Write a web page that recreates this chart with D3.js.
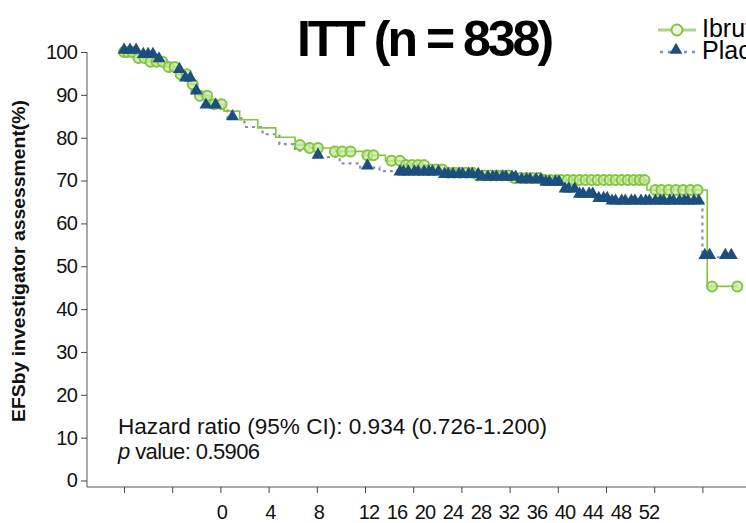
<!DOCTYPE html>
<html>
<head>
<meta charset="utf-8">
<script src="https://cdn.jsdelivr.net/npm/d3@7"></script>
<style>
body { margin: 0; background: #fff; }
svg { display: block; font-family: "Liberation Sans", Arial, sans-serif; }
</style>
</head>
<body>
<svg id="chart" width="746" height="523"></svg>
<script>
// KM steps: [month, survival %]
var ibruSteps = [[0,100],[0.9,98.6],[2.2,97.7],[3.4,96.5],[4.5,94.8],[5.3,92.5],[6.1,89.8],[7.1,87.8],
    [8.3,86.2],[9.6,84.2],[11.1,82.3],[12.6,80.1],[14.2,78.3],[15.4,77.6],[17.5,76.8],[20.0,75.9],
    [21.7,74.6],[23.3,73.6],[25.0,72.6],[26.6,71.8],[29.1,71.2],[32.0,70.6],[34.9,70.1],[43.4,67.8],[48.4,45.3]];
var ibruEnd = 50.9;
var ibruCensor = [0.0,0.3,0.7,1.2,1.7,2.2,2.7,3.2,3.7,4.2,4.7,5.2,5.7,6.3,6.9,7.5,8.1,
    14.6,15.4,16.1,17.5,18.1,18.8,20.2,20.7,22.2,22.9,23.4,23.9,24.4,24.9,25.4,25.9,26.4,
    26.9,27.4,27.9,28.4,28.9,29.4,29.9,30.4,30.9,31.4,31.9,32.4,32.9,33.4,33.9,34.4,34.9,
    35.4,35.9,36.3,36.8,37.3,37.8,38.3,38.8,39.3,39.8,40.3,40.8,41.3,41.8,42.3,42.8,43.2,
    44.1,44.6,45.2,45.8,46.4,47.0,47.6,48.8,50.9];

var placSteps = [[0,100],[1.3,99.0],[2.8,98.0],[3.8,95.5],[4.8,93.5],[5.6,90.5],[6.7,87.2],[8.6,84.5],
    [10.0,82.5],[11.5,80.8],[12.9,78.5],[14.2,77.0],[15.9,75.5],[17.9,74.0],[19.6,73.0],[21.2,72.2],
    [22.9,71.6],[26.2,71.0],[29.5,70.4],[32.9,69.8],[34.9,69.2],[36.6,67.6],[37.8,66.4],[39.1,65.4],
    [40.3,64.8],[48.0,52.1]];
var placEnd = 50.5;
var placCensor = [0,0.5,1.0,1.6,2.0,2.4,2.9,4.6,5.1,5.5,6.0,6.8,7.6,9.0,16.1,20.2,
    22.9,23.2,23.6,24.1,24.4,24.9,25.3,25.6,26.1,26.6,26.9,27.3,27.8,28.1,28.6,28.9,29.4,29.7,
    30.2,30.6,30.9,31.4,31.7,32.2,32.5,33.0,33.4,33.7,34.2,34.6,35.0,35.3,35.8,36.1,36.6,36.9,
    37.4,37.8,38.1,38.6,38.9,39.4,39.8,40.1,40.5,40.8,41.3,41.6,42.1,42.4,42.9,43.3,43.6,44.1,
    44.5,44.8,45.3,45.6,46.1,46.5,46.8,47.3,47.7,48.2,48.6,49.9,50.4];

var yTicks = [0,10,20,30,40,50,60,70,80,90,100];
var xTickMonths = [0,4,8,12,16,20,24,28,32,36,40,44,48];
var xLabelsLeft = ["0","4","8"];
var xLabelsRight = ["12","16","20","24","28","32","36","40","44","48","52"];

var green = "#86c440", navy = "#1c4f7e", dotGray = "#8593a6";

var svg = d3.select("#chart");

var x = d3.scaleLinear().domain([0, 48]).range([124, 702.4]);
var y = d3.scaleLinear().domain([0, 100]).range([480.5, 52]);

function survAt(steps, t) {
    var s = steps[0][1];
    for (var i = 0; i < steps.length; i++) { if (steps[i][0] <= t) s = steps[i][1]; }
    return s;
}

// axes
svg.append("line").attr("x1", 87).attr("x2", 87).attr("y1", 52).attr("y2", 487)
    .attr("stroke", "#555").attr("stroke-width", 1);
svg.append("line").attr("x1", 87).attr("x2", 746).attr("y1", 487).attr("y2", 487)
    .attr("stroke", "#555").attr("stroke-width", 1);

var yAxis = svg.append("g").attr("transform", "translate(87,0)")
    .call(d3.axisLeft(y).tickValues(yTicks).tickSize(6).tickPadding(4));
yAxis.select(".domain").remove();
yAxis.selectAll(".tick line").attr("stroke", "#444");
yAxis.selectAll("text").attr("font-size", 20).attr("fill", "#111")
    .attr("letter-spacing", -0.8).attr("font-family", "Liberation Sans, Arial, sans-serif");

var xAxis = svg.append("g").attr("transform", "translate(0,487)")
    .call(d3.axisBottom(x).tickValues(xTickMonths).tickSize(6).tickFormat(""));
xAxis.select(".domain").remove();
xAxis.selectAll(".tick line").attr("stroke", "#444");

var xl1 = d3.scalePoint().domain(xLabelsLeft).range([222, 319]);
var xl2 = d3.scalePoint().domain(xLabelsRight).range([369, 649]);
svg.append("g").selectAll("text").data(xLabelsLeft).enter().append("text")
    .attr("x", function(d) { return xl1(d); }).attr("y", 519)
    .attr("text-anchor", "middle").attr("font-size", 20).attr("letter-spacing", -0.8)
    .attr("fill", "#111").text(function(d) { return d; });
svg.append("g").selectAll("text").data(xLabelsRight).enter().append("text")
    .attr("x", function(d) { return xl2(d); }).attr("y", 519)
    .attr("text-anchor", "middle").attr("font-size", 20).attr("letter-spacing", -0.8)
    .attr("fill", "#111").text(function(d) { return d; });

// y title
svg.append("text")
    .attr("transform", "translate(25,261)rotate(-90)")
    .attr("text-anchor", "middle").attr("font-weight", "bold").attr("font-size", 19)
    .attr("textLength", 322).attr("lengthAdjust", "spacingAndGlyphs")
    .attr("fill", "#111")
    .text("EFSby investigator assessment(%)");

// title
svg.append("text")
    .attr("x", 424).attr("y", 56)
    .attr("text-anchor", "middle").attr("font-weight", "bold").attr("font-size", 50)
    .attr("letter-spacing", -3)
    .attr("fill", "#000")
    .text("ITT (n = 838)");

// curves
var line = d3.line()
    .x(function(d) { return x(d[0]); })
    .y(function(d) { return y(d[1]); })
    .curve(d3.curveStepAfter);

var placPts = placSteps.concat([[placEnd, placSteps[placSteps.length - 1][1]]]);
var ibruPts = ibruSteps.concat([[ibruEnd, ibruSteps[ibruSteps.length - 1][1]]]);

svg.append("path").datum(placPts).attr("d", line)
    .attr("fill", "none").attr("stroke", dotGray).attr("stroke-width", 2.2)
    .attr("stroke-dasharray", "3,4");

svg.append("path").datum(ibruPts).attr("d", line)
    .attr("fill", "none").attr("stroke", green).attr("stroke-width", 1.6);

svg.append("g").selectAll("circle").data(ibruCensor).enter().append("circle")
    .attr("cx", function(d) { return x(d); })
    .attr("cy", function(d) { return y(survAt(ibruSteps, d)); })
    .attr("r", 5)
    .attr("fill", "#c6e8a2").attr("fill-opacity", 0.75)
    .attr("stroke", green).attr("stroke-width", 2);

var tri = d3.symbol().type(d3.symbolTriangle).size(72);
svg.append("g").selectAll("path").data(placCensor).enter().append("path")
    .attr("d", tri)
    .attr("transform", function(d) { return "translate(" + x(d) + "," + (y(survAt(placSteps, d)) - 2) + ")"; })
    .attr("fill", navy);

// legend
var leg = svg.append("g");
leg.append("line").attr("x1", 658).attr("x2", 696).attr("y1", 30).attr("y2", 30)
    .attr("stroke", "#a9d77a").attr("stroke-width", 3);
leg.append("circle").attr("cx", 677).attr("cy", 30).attr("r", 5.5)
    .attr("fill", "#eef7e3").attr("stroke", green).attr("stroke-width", 2);
leg.append("text").attr("x", 702).attr("y", 37).attr("font-size", 25)
    .attr("fill", "#000").text("Ibrutinib");
leg.append("line").attr("x1", 660).attr("x2", 697).attr("y1", 52).attr("y2", 52)
    .attr("stroke", dotGray).attr("stroke-width", 2.5).attr("stroke-dasharray", "3,5");
leg.append("path").attr("d", d3.symbol().type(d3.symbolTriangle).size(70))
    .attr("transform", "translate(676,50)").attr("fill", navy);
leg.append("text").attr("x", 702).attr("y", 59).attr("font-size", 25)
    .attr("fill", "#000").text("Placebo");

// annotation
svg.append("text").attr("x", 118).attr("y", 434).attr("font-size", 22)
    .attr("textLength", 429).attr("lengthAdjust", "spacingAndGlyphs").attr("fill", "#111")
    .text("Hazard ratio (95% CI): 0.934 (0.726-1.200)");
var pv = svg.append("text").attr("x", 118).attr("y", 459).attr("font-size", 22)
    .attr("letter-spacing", -0.6).attr("fill", "#111");
pv.append("tspan").attr("font-style", "italic").text("p");
pv.append("tspan").text(" value: 0.5906");
</script>
</body>
</html>
